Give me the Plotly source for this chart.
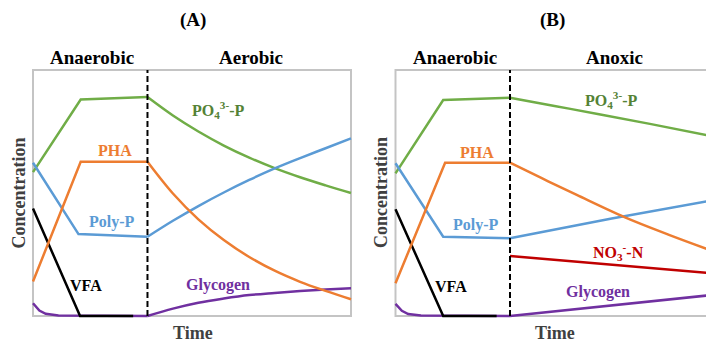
import plotly.graph_objects as go

W, H = 706, 347

# ---------------- Panel A: anaerobic phase ----------------
a_x_anaer = [0, 15, 36]
a_po4_anaer = [58.5, 88, 89]
a_pha_anaer = [14, 62.7, 62.7]
a_x_polyp_anaer = [0, 14.3, 36]
a_polyp_anaer = [62.3, 33.3, 32.2]
a_x_vfa = [0, 14.8, 31.5]
a_vfa = [43.7, 0, 0]
a_x_gly_anaer = [0, 2, 4, 8, 36]
a_gly_anaer = [5.2, 2.2, 0.9, 0.2, 0]

# ---------------- Panel A: aerobic phase ----------------
a_x_aer = [36, 44, 52, 60, 68, 76, 84, 92, 100]
a_po4_aer = [89, 81.5, 75, 69.3, 64.4, 60.1, 56.4, 53.1, 50]
a_pha_aer = [62.7, 49.8, 39.3, 30.9, 24, 18.4, 13.9, 10.2, 6.8]
a_polyp_aer = [32.2, 38.7, 44.7, 50.2, 55.3, 60, 64.2, 68.2, 72.2]
a_gly_aer = [0, 3.0, 5.4, 7.1, 8.5, 9.4, 10.2, 10.8, 11.3]

# ---------------- Panel B: anaerobic phase ----------------
b_x_po4_anaer = [0, 15, 36]
b_po4_anaer = [58, 87.8, 88.7]
b_x_pha_anaer = [0, 15.6, 36]
b_pha_anaer = [13.3, 62.3, 62.3]
b_x_polyp_anaer = [0, 15, 36]
b_polyp_anaer = [62.1, 32.2, 31.6]
b_x_vfa = [0, 15, 31.8]
b_vfa = [43.4, 0, 0]
b_x_gly_anaer = [0, 2, 4, 8, 36]
b_gly_anaer = [4.9, 2.1, 0.8, 0.2, 0]

# ---------------- Panel B: anoxic phase ----------------
b_x_po4_anox = [36, 50, 64, 80, 100]
b_po4_anox = [88.7, 85.4, 82, 78.1, 73]
b_x_pha_anox = [36, 46, 57, 72, 86, 100]
b_pha_anox = [62.3, 56, 49.2, 40.2, 33, 26.3]
b_x_polyp_anox = [36, 68, 100]
b_polyp_anox = [31.6, 39.6, 47.1]
b_x_no3 = [36, 100]
b_no3 = [24.4, 17.3]
b_x_gly_anox = [36, 100]
b_gly_anox = [0, 8.6]

phase_switch = 36

GREEN, ORANGE, BLUE, PURPLE, RED = "#70AD47", "#ED7D31", "#5B9BD5", "#7030A0", "#C00000"
GREEN_TXT = "#548235"
AXIS_TXT = "#404040"
FONT = "Liberation Serif"


def px_x(px):
    return px / W


def px_y(py):
    return 1 - py / H


fig = go.Figure()


def add_line(xs, ys, color, axis, smooth=False):
    fig.add_trace(go.Scatter(
        x=xs, y=ys, mode="lines",
        line=dict(color=color, width=2.5, shape="spline" if smooth else "linear",
                  smoothing=1.0 if smooth else None),
        xaxis="x" if axis == 1 else "x2", yaxis="y" if axis == 1 else "y2",
        showlegend=False, hoverinfo="skip"))


# glycogen goes under VFA so the black flat segment sits on top
add_line(a_x_gly_anaer, a_gly_anaer, PURPLE, 1)
add_line(a_x_aer, a_gly_aer, PURPLE, 1, True)
add_line(a_x_vfa, a_vfa, "black", 1)
add_line(a_x_anaer, a_po4_anaer, GREEN, 1)
add_line(a_x_aer, a_po4_aer, GREEN, 1, True)
add_line(a_x_polyp_anaer, a_polyp_anaer, BLUE, 1)
add_line(a_x_aer, a_polyp_aer, BLUE, 1, True)
add_line(a_x_anaer, a_pha_anaer, ORANGE, 1)
add_line(a_x_aer, a_pha_aer, ORANGE, 1, True)

add_line(b_x_gly_anaer, b_gly_anaer, PURPLE, 2)
add_line(b_x_gly_anox, b_gly_anox, PURPLE, 2)
add_line(b_x_vfa, b_vfa, "black", 2)
add_line(b_x_no3, b_no3, RED, 2)
add_line(b_x_po4_anaer, b_po4_anaer, GREEN, 2)
add_line(b_x_po4_anox, b_po4_anox, GREEN, 2, True)
add_line(b_x_polyp_anaer, b_polyp_anaer, BLUE, 2)
add_line(b_x_polyp_anox, b_polyp_anox, BLUE, 2, True)
add_line(b_x_pha_anaer, b_pha_anaer, ORANGE, 2)
add_line(b_x_pha_anox, b_pha_anox, ORANGE, 2, True)

# axis geometry: data 0..100 in x spans 318 px, 0..100 in y spans 246 px
XS, YS = 3.18, 2.46
PAD_X, PAD_Y = 3, 5
a_left = 33
b_left = 395.5
y_bottom = 316

ax_common = dict(showgrid=False, zeroline=False, showticklabels=False,
                 showline=False, ticks="", fixedrange=True)
ya_lo = y_bottom + PAD_Y * YS
ya_hi = y_bottom - (100 + PAD_Y) * YS

fig.update_layout(
    width=W, height=H, margin=dict(l=0, r=0, t=0, b=0),
    paper_bgcolor="white", plot_bgcolor="rgba(0,0,0,0)",
    xaxis=dict(domain=[px_x(a_left - PAD_X * XS), px_x(a_left + (100 + PAD_X) * XS)],
               range=[-PAD_X, 100 + PAD_X], **ax_common),
    yaxis=dict(domain=[px_y(ya_lo), px_y(ya_hi)], range=[-PAD_Y, 100 + PAD_Y], **ax_common),
    xaxis2=dict(domain=[px_x(b_left - PAD_X * XS), 1],
                range=[-PAD_X, (W - b_left) / XS], anchor="y2", **ax_common),
    yaxis2=dict(domain=[px_y(ya_lo), px_y(ya_hi)], range=[-PAD_Y, 100 + PAD_Y],
                anchor="x2", **ax_common),
)

# plot frames and phase boundaries
for xr, yr in (("x", "y"), ("x2", "y2")):
    fig.add_shape(type="rect", xref=xr, yref=yr, x0=0, x1=100, y0=0, y1=100,
                  line=dict(color="#C4C4C4", width=2), layer="below")
    fig.add_shape(type="line", xref=xr, yref=yr, x0=phase_switch, x1=phase_switch,
                  y0=0, y1=100, line=dict(color="black", width=2, dash="6px,3px"))


def label(px, py, text, color, size=16, angle=0):
    fig.add_annotation(x=px_x(px), y=px_y(py), xref="paper", yref="paper",
                       text=f"<b>{text}</b>", showarrow=False, textangle=angle,
                       font=dict(family=FONT, size=size, color=color),
                       xanchor="center", yanchor="middle")


# panel titles and phase names
label(193, 20, "(A)", "black", 19)
label(552, 20, "(B)", "black", 19)
label(91.5, 57, "Anaerobic", "black", 19)
label(251, 57, "Aerobic", "black", 19)
label(455, 57, "Anaerobic", "black", 19)
label(614, 57, "Anoxic", "black", 19)

# axis titles
label(193, 333, "Time", AXIS_TXT, 18)
label(555, 333, "Time", AXIS_TXT, 18)
label(18.5, 193, "Concentration", AXIS_TXT, 18, -90)
label(381, 193, "Concentration", AXIS_TXT, 18, -90)

# series labels, panel A
label(218, 110, "PO<sub>4</sub><sup>3-</sup>-P", GREEN_TXT)
label(115, 150, "PHA", ORANGE)
label(111.5, 222, "Poly-P", BLUE)
label(86, 285, "VFA", "black")
label(217.5, 285, "Glycogen", PURPLE)

# series labels, panel B
label(611, 100, "PO<sub>4</sub><sup>3-</sup>-P", GREEN_TXT)
label(477, 152, "PHA", ORANGE)
label(475.5, 225, "Poly-P", BLUE)
label(451, 286, "VFA", "black")
label(618.5, 252, "NO<sub>3</sub><sup>-</sup>-N", RED)
label(597.5, 292, "Glycogen", PURPLE)

fig.write_html("out.html")
